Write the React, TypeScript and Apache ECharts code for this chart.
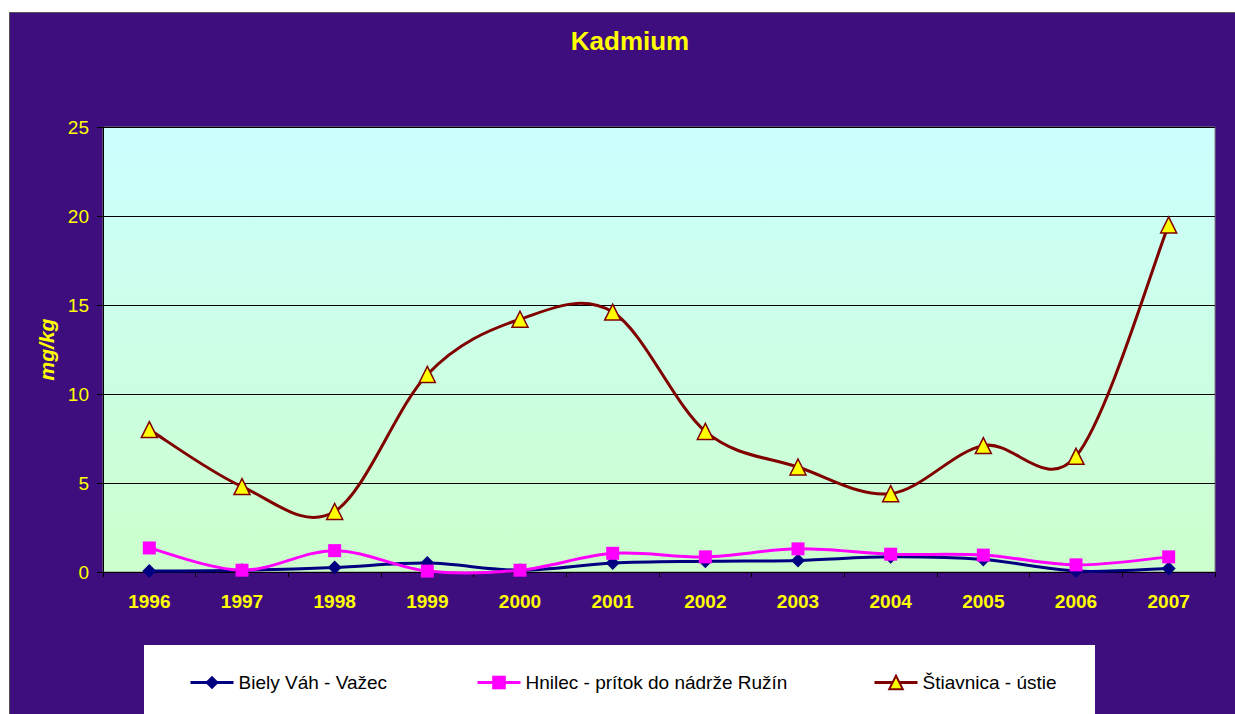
import React, { useEffect, useRef } from "react";
import * as echarts from "echarts";

const years = ["1996", "1997", "1998", "1999", "2000", "2001", "2002", "2003", "2004", "2005", "2006", "2007"];
const bielyVah = [0.05, 0.1, 0.25, 0.5, 0.1, 0.5, 0.6, 0.65, 0.85, 0.7, 0.05, 0.2];
const hnilec = [1.35, 0.1, 1.2, 0.05, 0.1, 1.05, 0.85, 1.3, 1.0, 0.95, 0.4, 0.85];
const stiavnica = [8.0, 4.8, 3.4, 11.1, 14.2, 14.6, 7.9, 5.9, 4.4, 7.1, 6.5, 19.5];
const yTicks = { min: 0, max: 25, interval: 5 };

const names = ["Biely Váh - Važec", "Hnilec - prítok do nádrže Ružín", "Štiavnica - ústie"];
const lineColors = ["#000080", "#ff00ff", "#800000"];

const FONT = "'Liberation Sans', Arial, Helvetica, sans-serif";

// Smooth line drawn as Catmull-Rom Bezier segments through the chart's own coordinate system
function smoothSeries(values: number[], color: string, z: number) {
  return {
    type: "custom",
    name: "_curve_" + color,
    z,
    silent: true,
    encode: { x: 0, y: 1 },
    data: values.map((v, i) => [i, v]),
    renderItem: (params: any, api: any) => {
      const i = params.dataIndex;
      const n = values.length;
      if (i >= n - 1) return null;
      const p = (k: number) => {
        const kk = Math.max(0, Math.min(n - 1, k));
        return api.coord([kk, values[kk]]);
      };
      const p0 = p(i - 1);
      const p1 = p(i);
      const p2 = p(i + 1);
      const p3 = p(i + 2);
      const t = 1 / 6;
      return {
        type: "bezierCurve",
        shape: {
          x1: p1[0],
          y1: p1[1],
          cpx1: p1[0] + (p2[0] - p0[0]) * t,
          cpy1: p1[1] + (p2[1] - p0[1]) * t,
          cpx2: p2[0] - (p3[0] - p1[0]) * t,
          cpy2: p2[1] - (p3[1] - p1[1]) * t,
          x2: p2[0],
          y2: p2[1],
        },
        style: { stroke: color, lineWidth: 3, fill: null, lineCap: "round" },
      };
    },
  };
}

export default function App() {
  const ref = useRef<HTMLDivElement>(null);
  useEffect(() => {
    if (!ref.current) return;
    const chart = echarts.init(ref.current, undefined, { renderer: "svg" });
    const legendText = { color: "#000", fontSize: 19, fontFamily: FONT };
    const legendLefts = [184, 471, 868];
    chart.setOption({
      animation: false,
      backgroundColor: "#3f0e7e",
      title: {
        text: "Kadmium",
        left: 625,
        top: 23,
        textAlign: "center",
        textStyle: { color: "#ffff00", fontSize: 26, fontWeight: "bold", fontFamily: FONT },
      },
      graphic: [
        { type: "rect", z: 1, shape: { x: 0, y: 0, width: 1235, height: 12 }, style: { fill: "#fff" } },
        { type: "rect", z: 1, shape: { x: 0, y: 0, width: 9, height: 714 }, style: { fill: "#fff" } },
        { type: "line", z: 1, shape: { x1: 9.5, y1: 12.5, x2: 1235, y2: 12.5 }, style: { stroke: "#555", lineWidth: 1 } },
        { type: "line", z: 1, shape: { x1: 9.5, y1: 12.5, x2: 9.5, y2: 714 }, style: { stroke: "#555", lineWidth: 1 } },
        { type: "rect", z: 1, shape: { x: 144, y: 645, width: 951, height: 80 }, style: { fill: "#fff" } },
      ],
      legend: names.map((nm, k) => ({
        data: [nm],
        left: legendLefts[k],
        top: 668,
        itemWidth: 43,
        itemHeight: 17,
        itemGap: 5,
        textStyle: legendText,
        lineStyle: { color: lineColors[k], width: 3, opacity: 1 },
        z: 10,
      })),
      grid: {
        left: 103,
        top: 127,
        width: 1112,
        height: 445,
        show: true,
        borderColor: "#808080",
        borderWidth: 1,
        backgroundColor: {
          type: "linear",
          x: 0,
          y: 0,
          x2: 0,
          y2: 1,
          colorStops: [
            { offset: 0, color: "#ccffff" },
            { offset: 1, color: "#ccffcc" },
          ],
        },
      },
      xAxis: {
        type: "category",
        data: years,
        boundaryGap: true,
        axisLine: { lineStyle: { color: "#000", width: 1 } },
        axisTick: { show: true, length: 5, lineStyle: { color: "#000" } },
        axisLabel: { color: "#ffff00", fontSize: 19, fontWeight: "bold", fontFamily: FONT, margin: 20 },
      },
      yAxis: {
        type: "value",
        min: yTicks.min,
        max: yTicks.max,
        interval: yTicks.interval,
        name: "mg/kg",
        nameLocation: "middle",
        nameRotate: 90,
        nameGap: 40,
        nameTextStyle: { color: "#ffff00", fontSize: 21, fontWeight: "bold", fontStyle: "italic", fontFamily: FONT },
        axisLine: { show: true, lineStyle: { color: "#000", width: 1 } },
        axisTick: { show: true, length: 6, lineStyle: { color: "#000" } },
        axisLabel: { color: "#ffff00", fontSize: 19, fontFamily: FONT, margin: 14 },
        splitLine: { show: true, lineStyle: { color: "#000", width: 1 } },
      },
      series: [
        smoothSeries(bielyVah, lineColors[0], 2),
        smoothSeries(hnilec, lineColors[1], 2),
        smoothSeries(stiavnica, lineColors[2], 2),
        {
          name: names[0],
          type: "line",
          data: bielyVah,
          z: 3,
          symbol: "diamond",
          symbolSize: 14,
          lineStyle: { color: lineColors[0], width: 0, opacity: 0 },
          itemStyle: { color: "#000080" },
        },
        {
          name: names[1],
          type: "line",
          data: hnilec,
          z: 3,
          symbol: "rect",
          symbolSize: 13,
          lineStyle: { color: lineColors[1], width: 0, opacity: 0 },
          itemStyle: { color: "#ff00ff" },
        },
        {
          name: names[2],
          type: "line",
          data: stiavnica,
          z: 3,
          symbol: "triangle",
          symbolSize: 16,
          lineStyle: { color: lineColors[2], width: 0, opacity: 0 },
          itemStyle: { color: "#ffff00", borderColor: "#800000", borderWidth: 1.5 },
        },
      ],
    });
    return () => chart.dispose();
  }, []);
  return <div ref={ref} style={{ position: "absolute", left: 0, top: 0, width: 1235, height: 714 }} />;
}
